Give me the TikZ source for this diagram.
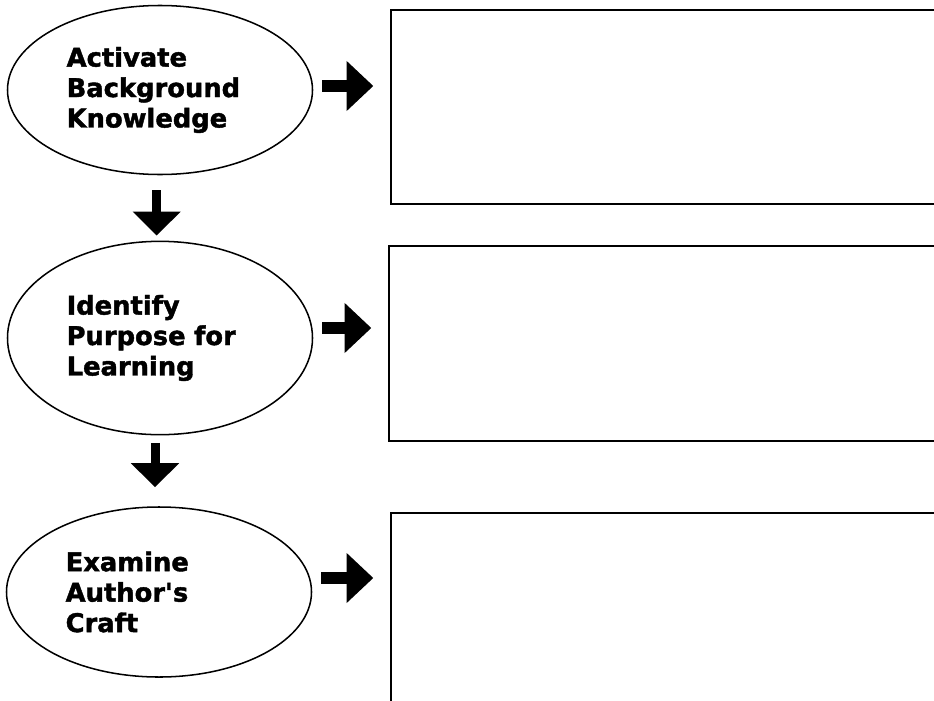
\documentclass[tikz,border=0pt]{standalone}
\usepackage{fontspec}
\usetikzlibrary{arrows.meta,shapes.geometric}
\newfontfamily\stagefont[BoldFeatures={FakeBold=1.6}]{DejaVu Sans}

\begin{document}
\begin{tikzpicture}[x=0.03cm,y=-0.03cm,
    stage/.style={ellipse,draw,line width=1.3pt,minimum width=9.15cm,inner sep=0pt,
        align=left,text width=5.6cm,font=\stagefont\bfseries\fontsize{22}{26}\selectfont},
    notebox/.style={draw,line width=1.6pt,anchor=north west,minimum width=17cm,inner sep=0pt},
    rightarrow/.style={line width=0.38cm,-{Triangle[length=0.8cm,width=1.45cm]},
        shorten <=0.27cm,shorten >=0.5cm},
    downarrow/.style={line width=0.27cm,-{Triangle[length=0.72cm,width=1.4cm]}}]
    % Frame
    \useasboundingbox (0,0) rectangle (934,700);
    \clip (0,0) rectangle (934,700);

    % Stages
    \node[stage,minimum height=5.07cm] (activate) at (160,90) {Activate\\Background\\Knowledge};
    \node[stage,minimum height=5.8cm] (identify) at (160,338) {Identify\\Purpose for\\Learning};
    \node[stage,minimum height=5.1cm] (examine) at (159,592) {Examine\\Author's\\Craft};

    % Note boxes (right edges run off the page)
    \node[notebox,minimum height=5.82cm] (notes1) at (390,9) {};
    \node[notebox,minimum height=5.85cm] (notes2) at (388,245) {};
    \node[notebox,minimum height=7cm] (notes3) at (390,512) {};

    % Arrows to the boxes
    \draw[rightarrow] ([yshift=0.12cm]activate.east) -- ([yshift=0.12cm]activate.east -| notes1.west);
    \draw[rightarrow] ([yshift=0.3cm]identify.east) -- ([yshift=0.3cm]identify.east -| notes2.west);
    \draw[rightarrow] ([yshift=0.42cm]examine.east) -- ([yshift=0.42cm]examine.east -| notes3.west);

    % Arrows between stages
    \draw[downarrow,shorten <=0.45cm,shorten >=0.15cm] ([xshift=-0.1cm]activate.south) -- ([xshift=-0.1cm]identify.north);
    \draw[downarrow,shorten <=0.22cm,shorten >=0.57cm] ([xshift=-0.15cm]identify.south) -- ([xshift=-0.15cm]identify.south |- examine.north);
\end{tikzpicture}
\end{document}
